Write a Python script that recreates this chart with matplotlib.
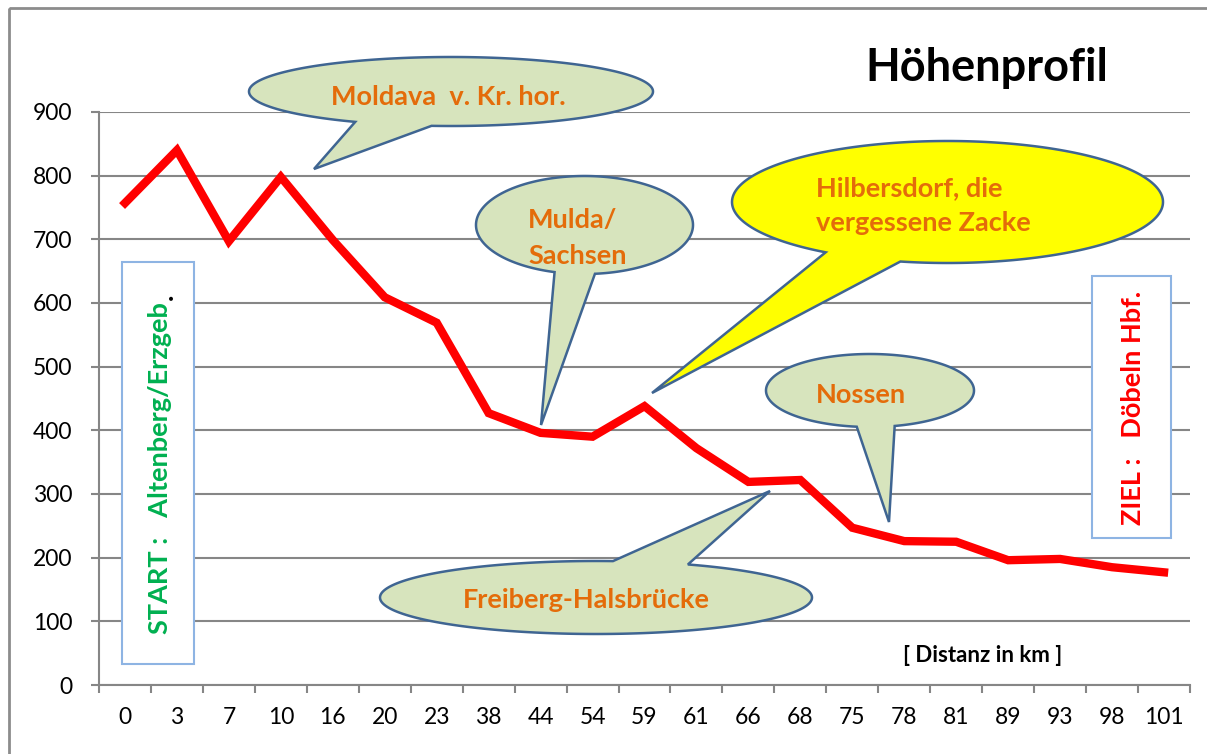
import numpy as np
import matplotlib
matplotlib.use("Agg")
import matplotlib.pyplot as plt
from matplotlib.patches import Polygon, Rectangle

plt.rcParams['font.family'] = ['Lato', 'DejaVu Sans']

# ---- data ----
distances = ["0", "3", "7", "10", "16", "20", "23", "38", "44", "54", "59",
             "61", "66", "68", "75", "78", "81", "89", "93", "98", "101"]
elevation = [757, 840, 697, 798, 699, 609, 569, 427, 396, 390, 438,
             372, 319, 322, 247, 226, 225, 196, 198, 185, 177]
y_ticks = [0, 100, 200, 300, 400, 500, 600, 700, 800, 900]

W, H = 1207, 754
fig = plt.figure(figsize=(W / 100, H / 100), dpi=100)
fig.patch.set_facecolor('white')

ax = fig.add_axes([99 / W, 1 - 685 / H, (1190 - 99) / W, (685 - 112) / H])
x = np.arange(len(distances))
ax.plot(x, elevation, color='#FF0000', lw=6, solid_joinstyle='miter', zorder=3)
ax.set_xlim(-0.5, len(distances) - 0.5)
ax.set_ylim(0, 900)

grey = '#868686'
ax.set_yticks(y_ticks)
ax.yaxis.grid(True, color=grey, lw=1.5)
ax.set_axisbelow(True)
ax.tick_params(axis='y', length=6, width=1.5, color=grey, pad=13, labelsize=16.5)
ax.set_xticks(x)
ax.set_xticklabels(distances)
ax.tick_params(axis='x', which='major', length=0, pad=16, labelsize=16.5)
ax.set_xticks(np.arange(-0.5, len(distances)), minor=True)
ax.tick_params(axis='x', which='minor', length=6, width=1.5, color=grey)
for s in ['top', 'right']:
    ax.spines[s].set_visible(False)
for s in ['left', 'bottom']:
    ax.spines[s].set_color(grey)
    ax.spines[s].set_linewidth(1.5)

# ---- overlay in pixel coordinates for annotations ----
ov = fig.add_axes([0, 0, 1, 1], zorder=5)
ov.set_xlim(0, W)
ov.set_ylim(H, 0)
ov.axis('off')
ov.patch.set_alpha(0)

# chart frame
ov.add_patch(Rectangle((9, 8), 1400, 900, fill=False, ec='#8C8C8C', lw=2))

ov.text(987, 68, "Höhenprofil", fontsize=32.5, fontweight='bold', ha='center', va='center')
ov.text(983, 655, "[ Distanz in km ]", fontsize=16, fontweight='bold', ha='center', va='center')


def callout(cx, cy, a, b, b1, b2, tip, fc):
    t1 = np.arctan2((b1[1] - cy) / b, (b1[0] - cx) / a)
    t2 = np.arctan2((b2[1] - cy) / b, (b2[0] - cx) / a)
    d = (t2 - t1) % (2 * np.pi)
    if d > np.pi:
        t1, t2 = t2, t1
        d = 2 * np.pi - d
    ts = np.linspace(t2, t2 + 2 * np.pi - d, 300)
    pts = [(cx + a * np.cos(t), cy + b * np.sin(t)) for t in ts]
    pts.append(tip)
    ov.add_patch(Polygon(pts, closed=True, fc=fc, ec='#3F6592', lw=1.8, joinstyle='miter'))


green_fc = '#D7E4BD'
orange = '#E46C0A'
fs = 19.5

callout(451, 91.5, 202, 34.5, (358, 121), (432, 125), (314, 169), green_fc)
ov.text(448, 97, "Moldava  v. Kr. hor.", color=orange, fontsize=fs, fontweight='bold',
        ha='center', va='center')

callout(584.5, 225, 108.5, 49, (554, 273), (595, 274), (541, 425), green_fc)
ov.text(528, 220, "Mulda/", color=orange, fontsize=fs, fontweight='bold', ha='left', va='center')
ov.text(528, 256, "Sachsen", color=orange, fontsize=fs, fontweight='bold', ha='left', va='center')

callout(947.5, 202, 215.5, 61, (824, 253), (900, 262), (652, 393), '#FFFF00')
ov.text(816, 188, "Hilbersdorf, die", color=orange, fontsize=fs, fontweight='bold', ha='left', va='center')
ov.text(816, 223, "vergessene Zacke", color=orange, fontsize=fs, fontweight='bold', ha='left', va='center')

callout(870, 390.5, 104, 36.5, (857, 426), (894, 425), (889, 522), green_fc)
ov.text(861, 395, "Nossen", color=orange, fontsize=fs, fontweight='bold', ha='center', va='center')

callout(596, 597.5, 216, 36.5, (613, 561), (692, 563), (770, 491), green_fc)
ov.text(586, 600, "Freiberg-Halsbrücke", color=orange, fontsize=fs, fontweight='bold',
        ha='center', va='center')

# start / finish boxes
box_ec = '#8EB4E3'
ov.add_patch(Rectangle((122, 262), 72, 402, fc='white', ec=box_ec, lw=1.5))
ov.text(160, 302, "START :   Altenberg/Erzgeb", color='#00B050', fontsize=19.5, fontweight='bold',
        rotation=90, ha='center', va='top')
ov.text(165, 297, ".", color='black', fontsize=19.5, fontweight='bold',
        rotation=90, ha='center', va='center')

ov.add_patch(Rectangle((1092, 276), 79, 262, fc='white', ec=box_ec, lw=1.5))
ov.text(1133, 408, "ZIEL :   Döbeln Hbf.", color='#FF0000', fontsize=19.5, fontweight='bold',
        rotation=90, ha='center', va='center')

fig.savefig("out.png", dpi=100)
